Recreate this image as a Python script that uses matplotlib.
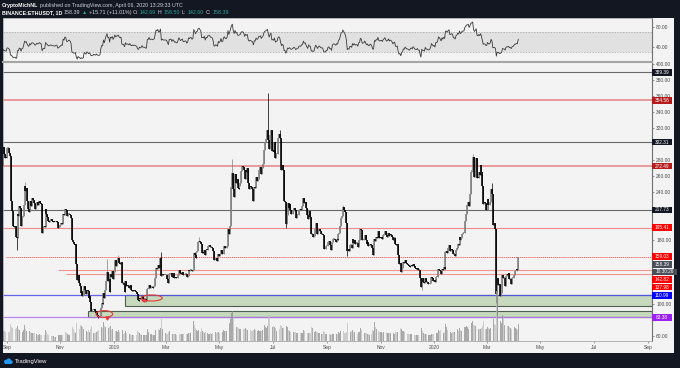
import numpy as np
import pandas as pd
import matplotlib
matplotlib.use('Agg')
import matplotlib.pyplot as plt
import matplotlib.dates as mdates
from matplotlib.patches import Rectangle, Ellipse, Circle
from matplotlib.transforms import Bbox, TransformedBbox, IdentityTransform

plt.rcParams['font.family'] = ['Liberation Sans', 'DejaVu Sans']

# ---------------- DATA: daily closes ETHUSDT (per month) ----------------
c18_08 = [423, 410, 405, 406, 408, 405, 378, 355, 362, 333, 320, 318, 280, 277, 282, 292, 314, 294, 299, 272,
          280, 272, 276, 282, 278, 273, 286, 296, 287, 283, 282]
c18_09 = [295, 295, 289, 285, 232, 229, 216, 197, 196, 197, 184, 183, 212, 210, 222, 220, 197, 209, 210, 224,
          248, 241, 245, 229, 219, 215, 229, 222, 231, 232]
c18_10 = [230, 226, 219, 222, 227, 224, 226, 229, 226, 225, 189, 196, 197, 196, 219, 212, 209, 204, 203, 205,
          206, 204, 203, 203, 202, 202, 204, 203, 195, 196, 198]
c18_11 = [199, 201, 200, 213, 211, 219, 218, 210, 210, 212, 213, 211, 207, 180, 177, 175, 174, 175, 150, 130,
          136, 126, 123, 114, 116, 110, 111, 123, 118, 113]
c18_12 = [118, 116, 108, 110, 102, 91, 92, 92, 94, 91, 89, 91, 86, 84, 84, 85, 95, 101, 100, 114,
          107, 118, 129, 140, 129, 131, 115, 137, 134, 141, 131]
c19_01 = [140, 155, 148, 153, 154, 158, 151, 150, 152, 126, 126, 124, 115, 129, 122, 124, 123, 120, 124, 118,
          116, 118, 116, 117, 116, 115, 113, 105, 104, 108, 106]
c19_02 = [107, 110, 106, 106, 106, 104, 104, 119, 119, 124, 120, 121, 121, 120, 121, 122, 132, 145, 144, 149,
          145, 148, 158, 135, 138, 136, 136, 136]
c19_03 = [136, 135, 131, 126, 138, 138, 139, 134, 138, 137, 133, 134, 132, 132, 136, 142, 139, 137, 139, 140,
          136, 136, 137, 137, 134, 135, 142, 141, 143, 143, 141]
c19_04 = [142, 164, 161, 158, 165, 166, 177, 179, 177, 175, 164, 165, 164, 168, 161, 168, 167, 173, 173, 174,
          171, 171, 170, 166, 155, 155, 157, 156, 154, 162]
c19_05 = [160, 162, 168, 162, 163, 171, 173, 170, 170, 173, 194, 187, 197, 216, 246, 264, 244, 234, 262, 251,
          256, 245, 244, 247, 251, 266, 272, 271, 267, 256, 268]
c19_06 = [265, 270, 251, 244, 248, 246, 244, 242, 229, 246, 245, 259, 254, 256, 268, 268, 271, 263, 270, 275,
          293, 303, 306, 311, 318, 305, 294, 311, 318, 291]
c19_07 = [293, 290, 302, 283, 287, 288, 307, 312, 307, 288, 268, 274, 268, 229, 228, 200, 211, 226, 220, 225,
          217, 212, 213, 216, 220, 218, 207, 208, 211, 211, 218]
c19_08 = [218, 217, 222, 222, 233, 226, 227, 220, 211, 206, 216, 211, 209, 187, 188, 184, 185, 194, 201, 196,
          187, 191, 194, 191, 187, 187, 186, 173, 169, 169, 172]
c19_09 = [172, 178, 179, 174, 174, 168, 178, 181, 181, 180, 178, 181, 180, 188, 189, 197, 208, 210, 221, 218,
          215, 211, 201, 166, 169, 166, 174, 174, 170, 181]
c19_10 = [176, 180, 175, 176, 176, 171, 180, 181, 194, 192, 180, 180, 181, 186, 180, 175, 177, 172, 172, 175,
          174, 170, 161, 161, 181, 179, 184, 183, 191, 183, 182]
c19_11 = [183, 184, 181, 186, 188, 191, 186, 184, 185, 189, 185, 187, 186, 184, 180, 182, 183, 175, 174, 175,
          161, 150, 151, 140, 145, 147, 152, 151, 155, 151]
c19_12 = [150, 149, 147, 146, 148, 149, 147, 150, 148, 145, 144, 144, 145, 142, 142, 132, 121, 132, 128, 128,
          126, 132, 127, 127, 125, 125, 126, 128, 134, 132, 129]
c20_01 = [130, 127, 134, 134, 135, 144, 143, 141, 138, 144, 142, 146, 144, 165, 166, 164, 170, 174, 166, 167,
          169, 168, 162, 162, 160, 168, 170, 175, 174, 184, 180]
c20_02 = [183, 188, 189, 189, 204, 212, 222, 223, 228, 223, 237, 265, 268, 284, 265, 259, 267, 282, 258, 257,
          265, 261, 274, 265, 248, 225, 227, 226, 218]
c20_03 = [218, 231, 224, 224, 228, 244, 237, 199, 201, 200, 194, 112, 133, 124, 125, 110, 114, 117, 136, 132,
          132, 122, 135, 138, 136, 139, 131, 131, 125, 132, 133]
c20_04 = [136, 141, 141, 144, 142.68, 158.39]

# daily volume (relative units)
v18_08 = [14, 13, 12, 11, 10, 10, 13, 14, 12, 14, 13, 11, 15, 16, 13, 12, 12, 10, 9, 12, 11, 10, 9, 9, 8, 10, 11, 10, 10, 9, 9]
v18_09 = [8, 8, 9, 9, 17, 14, 13, 14, 9, 9, 12, 13, 15, 12, 11, 9, 11, 10, 9, 11, 16, 12, 10, 10, 11, 9, 10, 9, 8, 8]
v18_10 = [8, 8, 8, 7, 7, 6, 6, 7, 6, 6, 14, 10, 6, 6, 11, 9, 7, 6, 5, 5, 4, 5, 5, 5, 4, 4, 4, 4, 6, 6, 6]
v18_11 = [6, 6, 6, 9, 8, 10, 9, 8, 7, 6, 6, 7, 7, 16, 14, 12, 9, 8, 18, 22, 17, 15, 12, 16, 15, 14, 12, 13, 11, 10]
v18_12 = [10, 9, 11, 9, 12, 15, 14, 9, 8, 8, 8, 9, 10, 11, 10, 9, 15, 14, 13, 19, 15, 14, 17, 22, 16, 13, 14, 15, 11, 12, 11]
v19_01 = [11, 14, 10, 10, 9, 11, 9, 8, 8, 16, 11, 7, 8, 10, 8, 8, 7, 7, 7, 7, 6, 6, 6, 6, 5, 5, 6, 10, 9, 8, 7]
v19_02 = [6, 6, 6, 6, 6, 6, 6, 12, 9, 9, 8, 7, 7, 6, 6, 6, 11, 18, 14, 14, 12, 11, 13, 22, 12, 10, 9, 8]
v19_03 = [8, 7, 7, 9, 10, 8, 8, 8, 7, 7, 7, 7, 6, 6, 7, 8, 7, 7, 7, 7, 7, 6, 6, 6, 7, 7, 8, 8, 8, 7, 6]
v19_04 = [7, 20, 16, 13, 11, 10, 11, 12, 10, 9, 13, 10, 9, 8, 9, 9, 8, 8, 7, 7, 8, 7, 8, 9, 11, 10, 9, 8, 9, 9]
v19_05 = [8, 9, 10, 10, 9, 11, 10, 10, 10, 10, 17, 16, 18, 22, 28, 30, 24, 19, 16, 17, 14, 14, 13, 12, 12, 13, 15, 13, 12, 12, 13]
v19_06 = [12, 11, 14, 13, 12, 11, 10, 10, 11, 12, 11, 12, 10, 10, 11, 10, 10, 10, 11, 12, 15, 16, 14, 13, 15, 26, 24, 18, 14, 14]
v19_07 = [14, 15, 14, 13, 10, 9, 10, 12, 12, 16, 15, 13, 13, 17, 16, 18, 15, 14, 11, 10, 9, 9, 10, 9, 9, 9, 9, 8, 8, 8, 8]
v19_08 = [8, 8, 8, 8, 11, 10, 9, 9, 9, 8, 8, 8, 8, 14, 13, 13, 10, 9, 10, 9, 9, 8, 8, 7, 7, 7, 7, 10, 9, 7, 7]
v19_09 = [6, 7, 7, 7, 6, 7, 7, 7, 6, 6, 7, 7, 7, 9, 8, 10, 13, 12, 13, 10, 8, 8, 9, 18, 15, 12, 10, 9, 10, 11]
v19_10 = [9, 9, 8, 8, 7, 7, 9, 9, 13, 11, 11, 8, 7, 8, 8, 8, 7, 7, 6, 6, 7, 7, 11, 10, 19, 14, 12, 10, 11, 10, 9]
v19_11 = [9, 9, 8, 9, 9, 9, 9, 9, 8, 8, 8, 8, 8, 8, 8, 8, 7, 9, 9, 9, 12, 14, 11, 13, 12, 10, 10, 9, 8, 7]
v19_12 = [7, 7, 7, 7, 7, 7, 6, 6, 6, 6, 6, 6, 6, 6, 6, 8, 14, 13, 10, 8, 7, 7, 7, 7, 6, 6, 6, 6, 7, 7, 7]
v20_01 = [7, 7, 9, 8, 8, 11, 10, 11, 9, 10, 8, 8, 9, 17, 14, 11, 12, 13, 11, 9, 8, 9, 9, 9, 8, 9, 11, 12, 10, 13, 11]
v20_02 = [10, 11, 10, 10, 14, 14, 15, 14, 12, 12, 15, 20, 18, 20, 16, 16, 15, 16, 17, 14, 12, 12, 12, 13, 15, 20, 16, 14, 12]
v20_03 = [12, 14, 13, 12, 13, 16, 13, 20, 22, 17, 16, 50, 45, 20, 16, 24, 20, 18, 26, 22, 16, 18, 20, 17, 15, 15, 14, 13, 12, 14, 13]
v20_04 = [13, 14, 13, 12, 11, 17]

# notable wick extremes
wick_high = {'2018-09-21': 252, '2018-12-24': 156, '2019-01-06': 161, '2019-02-24': 165, '2019-04-08': 184,
             '2019-05-16': 281, '2019-06-26': 364, '2019-07-09': 318, '2019-09-19': 224, '2020-02-14': 288,
             '2020-03-07': 251, '2020-04-06': 158.5}
wick_low = {'2018-09-12': 167, '2018-12-14': 82, '2019-02-07': 102, '2019-07-16': 195, '2019-09-24': 160,
            '2019-12-18': 117, '2020-03-12': 101, '2020-03-13': 86}

# horizontal levels (price, label)
level_prices = [389.39, 354.56, 302.31, 272.49, 217.73, 195.41, 159.03, 142.82, 137.98, 110.99, 83.38]
level_labels = ['389.39', '354.56', '302.31', '272.49', '217.73', '195.41', '159.03', '142.82', '137.98', '110.99', '83.38']
level_start = ['2018-08-01', '2018-08-01', '2018-08-01', '2018-08-01', '2018-08-01', '2018-08-01',
               '2018-08-31', '2018-10-29', '2018-11-07', '2018-08-01', '2018-08-01']
last_price = 158.39
countdown = '10:30:26'
zones = [('2019-01-13', 98.0, 110.99), ('2018-12-02', 83.38, 91.0)]
circles = [('2019-02-13', 107.5, 24, 7.5), ('2018-12-21', 87.5, 19, 8.5)]

month_ticks = ['2018-09-01', '2018-11-01', '2019-01-01', '2019-03-01', '2019-05-01', '2019-07-01', '2019-09-01',
               '2019-11-01', '2020-01-01', '2020-03-01', '2020-05-01', '2020-07-01', '2020-09-01']
month_labels = ['Sep', 'Nov', '2019', 'Mar', 'May', 'Jul', 'Sep', 'Nov', '2020', 'Mar', 'May', 'Jul', 'Sep']
price_ticks = [400, 380, 360, 340, 320, 280, 260, 240, 180, 100, 60]
rsi_ticks = [80, 40]

# ---------------- build series ----------------
months_c = [(2018, 8, c18_08), (2018, 9, c18_09), (2018, 10, c18_10), (2018, 11, c18_11), (2018, 12, c18_12),
            (2019, 1, c19_01), (2019, 2, c19_02), (2019, 3, c19_03), (2019, 4, c19_04), (2019, 5, c19_05),
            (2019, 6, c19_06), (2019, 7, c19_07), (2019, 8, c19_08), (2019, 9, c19_09), (2019, 10, c19_10),
            (2019, 11, c19_11), (2019, 12, c19_12), (2020, 1, c20_01), (2020, 2, c20_02), (2020, 3, c20_03),
            (2020, 4, c20_04)]
months_v = [(2018, 8, v18_08), (2018, 9, v18_09), (2018, 10, v18_10), (2018, 11, v18_11), (2018, 12, v18_12),
            (2019, 1, v19_01), (2019, 2, v19_02), (2019, 3, v19_03), (2019, 4, v19_04), (2019, 5, v19_05),
            (2019, 6, v19_06), (2019, 7, v19_07), (2019, 8, v19_08), (2019, 9, v19_09), (2019, 10, v19_10),
            (2019, 11, v19_11), (2019, 12, v19_12), (2020, 1, v20_01), (2020, 2, v20_02), (2020, 3, v20_03),
            (2020, 4, v20_04)]


def build(months):
    idx, vals = [], []
    for y, m, lst in months:
        d = pd.date_range(f'{y}-{m:02d}-01', periods=len(lst), freq='D')
        idx.extend(d)
        vals.extend(lst)
    s = pd.Series(vals, index=pd.DatetimeIndex(idx), dtype=float)
    return s[~s.index.duplicated()]


close = build(months_c)
volume = build(months_v).reindex(close.index).fillna(0)
opn = close.shift(1).fillna(close.iloc[0])

delta = close.diff()
gain = delta.clip(lower=0)
loss = -delta.clip(upper=0)
ag = gain.ewm(alpha=1 / 14, adjust=False).mean()
al = loss.ewm(alpha=1 / 14, adjust=False).mean()
rsi = 100 - 100 / (1 + ag / al)

xd = mdates.date2num(close.index.to_pydatetime())
o = opn.values
c = close.values
bhi = np.maximum(o, c)
blo = np.minimum(o, c)
hi = bhi.copy()
lo = blo.copy()
for d, v in wick_high.items():
    i = close.index.get_loc(pd.Timestamp(d))
    hi[i] = max(hi[i], v)
for d, v in wick_low.items():
    i = close.index.get_loc(pd.Timestamp(d))
    lo[i] = min(lo[i], v)
up = c >= o

# ---------------- figure ----------------
W, H = 680, 368
fig = plt.figure(figsize=(W / 100, H / 100), dpi=100, facecolor='#131722')


def fx(px):
    return px / W


def fy(py):
    return 1 - py / H


fig.add_artist(Rectangle((fx(3), fy(353)), fx(674) - fx(3), fy(18) - fy(353), transform=fig.transFigure,
                         fc='#f3f3f3', ec='none', zorder=-5))

ax_rsi = fig.add_axes([fx(3), fy(62), fx(652) - fx(3), fy(18) - fy(62)])
ax = fig.add_axes([fx(3), fy(341), fx(652) - fx(3), fy(62) - fy(341)], sharex=ax_rsi)
for a in (ax, ax_rsi):
    a.set_facecolor('#f3f3f3')
    for s in a.spines.values():
        s.set_color('#a8a8a8')
        s.set_linewidth(0.6)
    a.spines['right'].set_color('#707070')
    a.spines['right'].set_linewidth(0.8)
ax.spines['top'].set_linewidth(1.5)
ax.spines['top'].set_color('#a6a6a6')
ax_rsi.spines['bottom'].set_visible(False)

x0 = mdates.date2num(pd.Timestamp('2018-09-01').to_pydatetime())
ax.set_xlim(x0 - 4.56, x0 + 735.5)
ax.set_ylim(53.75, 402.5)
ax_rsi.set_ylim(10, 98)
xmax = x0 + 735.5

# RSI pane
ax_rsi.axhspan(30, 70, color='#e1e1e1', lw=0, zorder=0)
for lv in (70, 30):
    ax_rsi.axhline(lv, color='#a0a0a0', lw=0.5, ls=(0, (2, 2)), zorder=1)
ax_rsi.plot(xd, rsi.values, color='#3a3a3a', lw=0.6, zorder=3)
ax_rsi.yaxis.tick_right()
ax_rsi.set_yticks(rsi_ticks)
ax_rsi.set_yticklabels([f'{v:.2f}' for v in rsi_ticks])
ax_rsi.tick_params(axis='y', length=1.5, width=0.5, colors='#666666', labelsize=3.5, pad=1.5, labelcolor='#4a4a4a')
ax_rsi.tick_params(axis='x', bottom=False, labelbottom=False)

# zones
for d, p0, p1 in zones:
    xs = mdates.date2num(pd.Timestamp(d).to_pydatetime())
    ax.add_patch(Rectangle((xs, p0), xmax - xs, p1 - p0, fc='#c6d9bd', ec='#4f5f4f', lw=0.8, zorder=1))

# levels
styles = {
    389.39: ('#5a5a5a', 0.8, '-'), 354.56: ('#e57373', 1.1, '-'), 302.31: ('#5a5a5a', 0.8, '-'),
    272.49: ('#e57373', 1.1, '-'), 217.73: ('#5a5a5a', 0.8, '-'), 195.41: ('#f08080', 0.8, '-'),
    159.03: ('#ff3030', 0.7, (0, (1, 1))), 142.82: ('#f28b82', 0.8, '-'), 137.98: ('#f28b82', 0.8, '-'),
    110.99: ('#5555e8', 0.9, '-'), 83.38: ('#b27af0', 0.9, '-'),
}
for p, d in zip(level_prices, level_start):
    col, lw, ls = styles[p]
    xs = mdates.date2num(pd.Timestamp(d).to_pydatetime())
    ax.hlines(p, xs, xmax, colors=col, lw=lw, linestyles=ls, zorder=2, alpha=0.9)

# candles
ax.vlines(xd[up], lo[up], hi[up], colors='#8a8a8a', lw=0.55, zorder=3)
ax.vlines(xd[~up], lo[~up], hi[~up], colors='#111111', lw=0.55, zorder=3)
bh = np.maximum(bhi, blo + 1.2)
ax.vlines(xd[up], blo[up], bh[up], colors='#7e7e7e', lw=1.15, zorder=4)
ax.vlines(xd[~up], blo[~up], bh[~up], colors='#000000', lw=1.15, zorder=4)

# circles / arrows
for d, p, w, h in circles:
    xc = mdates.date2num(pd.Timestamp(d).to_pydatetime())
    ax.add_patch(Ellipse((xc, p), w, h, fill=False, ec='#e53935', lw=0.8, zorder=5))
ax.plot(mdates.date2num(pd.Timestamp('2019-02-03').to_pydatetime()), 104.5, marker='<', ms=2.2,
        color='#e53935', zorder=6)
ax.plot(mdates.date2num(pd.Timestamp('2018-12-24').to_pydatetime()), 82.0, marker='v', ms=2.2,
        color='#e53935', zorder=6)

# volume
vax = ax.twinx()
vax.set_ylim(0, volume.max() * 5.6)
vax.axis('off')
vcol = np.where(up, '#8a8a8a', '#bdbdbd')
vax.bar(xd, volume.values, width=0.75, color=vcol, alpha=0.7, lw=0)
vax.set_xlim(ax.get_xlim())

# axes ticks
ax.yaxis.tick_right()
ax.set_yticks(price_ticks)
ax.set_yticklabels([f'{v:.2f}' for v in price_ticks])
ax.tick_params(axis='y', length=1.5, width=0.5, colors='#666666', labelsize=3.5, pad=1.5, labelcolor='#4a4a4a')
ax.set_xticks([mdates.date2num(pd.Timestamp(t).to_pydatetime()) for t in month_ticks])
ax.set_xticklabels(month_labels)
ax.tick_params(axis='x', length=1.5, width=0.5, colors='#777777', labelsize=3.5, pad=1.5, labelcolor='#4a4a4a')
clipbb = TransformedBbox(Bbox([[0, 0], [fx(652), 1]]), fig.transFigure)
for t in ax.get_xticklabels():
    t.set_clip_box(clipbb)
    t.set_clip_on(True)

# price label boxes (stacked like the price scale)
box_cols = {389.39: '#131722', 354.56: '#b71c1c', 302.31: '#131722', 272.49: '#b71c1c', 217.73: '#131722',
            195.41: '#ff0000', 159.03: '#ff0000', 142.82: '#ff0000', 137.98: '#ff0000', 110.99: '#0000ff',
            83.38: '#9b1ff0'}
items = [(p, t, box_cols[p]) for p, t in zip(level_prices, level_labels)]
items.append((last_price, f'{last_price:.2f}', '#4a4e59'))
items.sort(key=lambda z: -z[0])


def box(ypx, text, color, left=652, width=20):
    fig.add_artist(Rectangle((fx(left), fy(ypx + 3.3)), width / W, 6.6 / H, transform=fig.transFigure,
                             fc=color, ec='none', zorder=10))
    fig.text(fx(left + width / 2), fy(ypx), text, color='white', fontsize=3.4, ha='center', va='center', zorder=11)


prev = -100
for p, t, col in items:
    ypx = H - ax.transData.transform((x0, p))[1]
    ypx = max(ypx, prev + 7.6)
    box(ypx, t, col)
    prev = ypx
    if p == last_price:
        ypx = prev + 7.6
        box(ypx, countdown, '#4a4e59', left=652, width=25)
        prev = ypx

# header
renderer = fig.canvas.get_renderer()


def pieces(xpx, ypx, parts, size=3.8, gap=1.5):
    x = xpx
    for txt, col, wt in parts:
        t = fig.text(fx(x), fy(ypx), txt, color=col, fontsize=size, fontweight=wt, ha='left', va='center')
        x += t.get_window_extent(renderer).width + gap


wt_ = '#ffffff'
gr_ = '#d1d4dc'
tl_ = '#26a69a'
pieces(2, 5, [('CryptoMichNL', wt_, 'bold'),
              ('published on TradingView.com, April 06, 2020 13:29:33 UTC', gr_, 'normal')])
pieces(2, 12.5, [('BINANCE:ETHUSDT, 1D', wt_, 'bold'), ('158.39', gr_, 'normal'), ('▲', tl_, 'normal'),
                 ('+15.71 (+11.01%)', gr_, 'normal'), ('O:', gr_, 'normal'), ('142.69', tl_, 'normal'),
                 ('H:', gr_, 'normal'), ('158.50', tl_, 'normal'), ('L:', gr_, 'normal'), ('142.60', tl_, 'normal'),
                 ('C:', gr_, 'normal'), ('158.39', tl_, 'normal')])

# footer logo
for cx, cy, r in [(6.0, 6.3, 2.0), (8.8, 7.2, 2.4), (11.2, 6.0, 1.6)]:
    fig.add_artist(Circle((cx, cy), r, transform=IdentityTransform(), fc='#2196f3', ec='none', zorder=5))
fig.add_artist(Rectangle((5, 4.3), 7, 2.2, transform=IdentityTransform(), fc='#2196f3', ec='none', zorder=5))
fig.text(fx(14.5), fy(361.5), 'TradingView', color='white', fontsize=4.2, ha='left', va='center')

fig.savefig('out.png', dpi=100, facecolor=fig.get_facecolor())
